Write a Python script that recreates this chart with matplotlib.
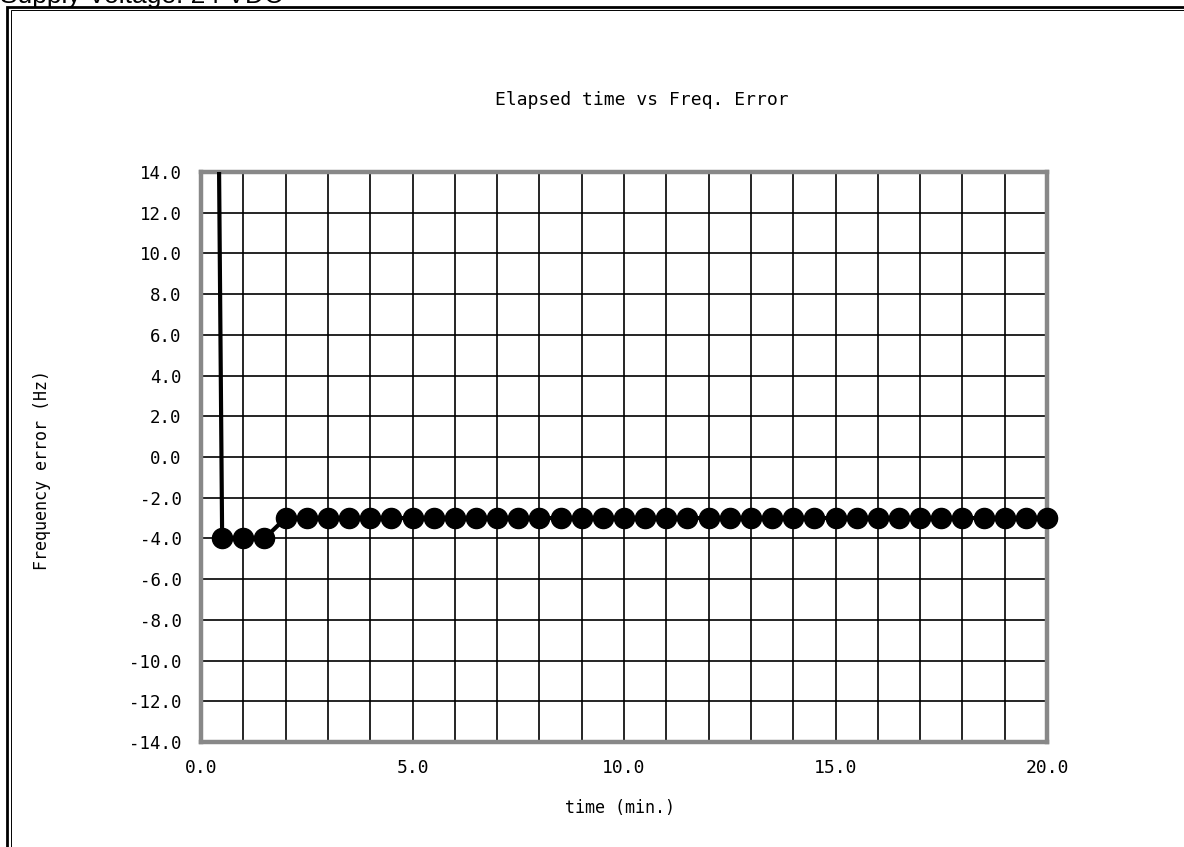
import matplotlib.pyplot as plt
from matplotlib.patches import Rectangle

# data
time_min = [0.0] + [0.5 * i for i in range(1, 41)]
freq_err = [120.0, -4, -4, -4] + [-3] * 37

x_ticks = [0.0, 5.0, 10.0, 15.0, 20.0]
y_ticks = [-14.0, -12.0, -10.0, -8.0, -6.0, -4.0, -2.0, 0.0, 2.0, 4.0, 6.0, 8.0, 10.0, 12.0, 14.0]

mono = "DejaVu Sans Mono"

fig = plt.figure(figsize=(11.84, 8.47), dpi=100)
W, H = 1184, 847
ax = fig.add_axes([201 / W, 1 - 742 / H, 846 / W, 570 / H])

# outer double border
fig.patches.append(Rectangle((7 / W, -0.1), 1.2, 1 - 7.5 / H + 0.1, transform=fig.transFigure,
                             fill=False, edgecolor="black", linewidth=2.0))
fig.patches.append(Rectangle((10.5 / W, -0.1), 1.2, 1 - 10.5 / H + 0.1, transform=fig.transFigure,
                             fill=False, edgecolor="black", linewidth=0.7))
fig.text(0, 1 - 3 / H, "Supply Voltage: 24 VDC", fontsize=19, family="Liberation Sans",
         va="baseline", ha="left")

# line clipped to the axes, markers kept whole at the edges
ax.plot(time_min, freq_err, color="black", linewidth=3, zorder=3)
pts = [(t, v) for t, v in zip(time_min, freq_err) if -14 <= v <= 14]
ax.plot([p[0] for p in pts], [p[1] for p in pts], linestyle="none", marker="o",
        markersize=14.5, color="black", zorder=4, clip_on=False)

ax.set_xlim(0, 20)
ax.set_ylim(-14, 14)
ax.set_xticks(x_ticks)
ax.set_xticklabels([f"{v:.1f}" for v in x_ticks], family=mono, fontsize=13)
ax.set_yticks(y_ticks)
ax.set_yticklabels([f"{v:.1f}" for v in y_ticks], family=mono, fontsize=12.5)
ax.set_xticks(range(0, 21), minor=True)
ax.grid(True, which="both", color="black", linewidth=1.2)
ax.tick_params(which="both", length=0)
ax.tick_params(axis="x", pad=12)
ax.tick_params(axis="y", pad=14)
for s in ax.spines.values():
    s.set_color("#888888")
    s.set_linewidth(3.2)

fig.text(642 / W, 1 - 100 / H, "Elapsed time vs Freq. Error", family=mono, fontsize=13,
         ha="center", va="center")
fig.text(620 / W, 1 - 808 / H, "time (min.)", family=mono, fontsize=12,
         ha="center", va="center")
fig.text(42 / W, 1 - 470 / H, "Frequency error (Hz)", family=mono, fontsize=12,
         ha="center", va="center", rotation=90)

fig.savefig("out.png", dpi=100)
